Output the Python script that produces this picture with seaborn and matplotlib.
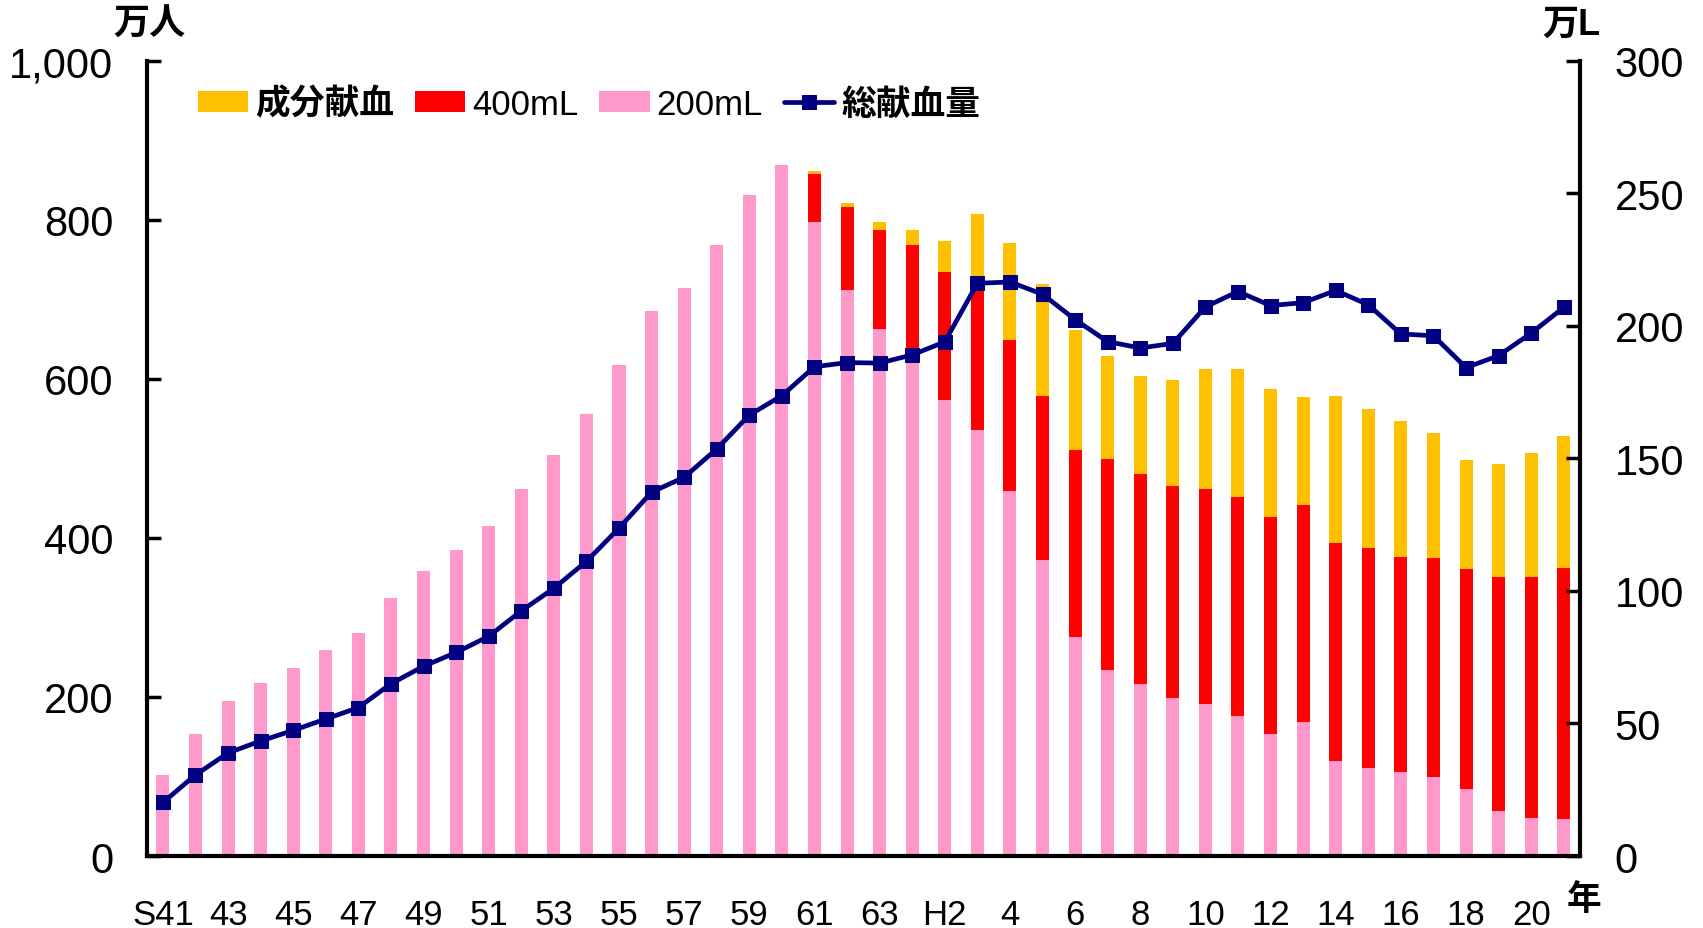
import numpy as np
import pandas as pd
import matplotlib
matplotlib.use("Agg")
import matplotlib.pyplot as plt
import seaborn as sns
from matplotlib.ticker import FuncFormatter

# S41 .. S63, H1 .. H21
years = [f"S{y}" for y in range(41, 64)] + [f"H{y}" for y in range(1, 22)]

ml200 = [102, 154, 195, 217, 237, 259, 281, 325, 359, 385, 415, 462, 505, 556, 618, 686, 715, 768, 831, 869,
         797, 712, 663, 624, 574, 536, 459, 372, 276, 234, 216, 199, 191, 176, 154, 169, 119, 111, 106, 99, 84, 57, 48, 46]
ml400 = [0] * 20 + [61, 104, 124, 145, 160, 192, 190, 206, 235, 265, 265, 266, 271, 276, 272, 273, 275, 277, 270,
                    276, 277, 294, 303, 316]
seibun = [0] * 20 + [3, 5, 11, 19, 40, 79, 122, 142, 150, 130, 123, 134, 151, 161, 161, 135, 184, 174, 171,
                     157, 137, 142, 156, 166]
total_L = [20.2, 30.6, 38.9, 43.4, 47.4, 51.7, 56.0, 65.0, 71.6, 76.8, 82.9, 92.5, 101.0, 111.2, 123.7, 137.3,
           142.9, 153.6, 166.4, 173.7, 184.6, 186.2, 186.0, 189.1, 194.0, 216.1, 216.6, 212.0, 202.4, 194.1,
           191.7, 193.4, 207.2, 213.0, 207.7, 208.8, 213.4, 208.0, 197.0, 196.3, 184.3, 188.8, 197.3, 207.0]

tick_labels = ["S41", "43", "45", "47", "49", "51", "53", "55", "57", "59", "61", "63",
               "H2", "4", "6", "8", "10", "12", "14", "16", "18", "20"]

df = pd.DataFrame({"year": years, "p": ml200, "r": ml400, "o": seibun, "L": total_L})
df["idx"] = np.arange(len(df))
df["pr"] = df["p"] + df["r"]
df["all"] = df["pr"] + df["o"]

sns.set_style("ticks")
plt.rcParams["font.family"] = ["Liberation Sans", "Noto Sans CJK JP", "DejaVu Sans"]
plt.rcParams["text.color"] = "black"
plt.rcParams["xtick.color"] = "black"
plt.rcParams["ytick.color"] = "black"
plt.rcParams["axes.edgecolor"] = "black"

c_o, c_r, c_p, c_line = "#FFC000", "#FF0000", "#FF99CC", "#000080"

fig = plt.figure(figsize=(17.03, 9.29), dpi=100)
ax = fig.add_axes([0.0861, 0.0775, 0.8417, 0.8558])

sns.barplot(data=df, x="idx", y="all", color=c_o, saturation=1, width=0.4, linewidth=0, ax=ax, label="成分献血")
sns.barplot(data=df, x="idx", y="pr", color=c_r, saturation=1, width=0.4, linewidth=0, ax=ax, label="400mL")
sns.barplot(data=df, x="idx", y="p", color=c_p, saturation=1, width=0.4, linewidth=0, ax=ax, label="200mL")
ax.set_xlim(-0.5, len(df) - 0.5)
ax.set_ylim(0, 1000)
ax.set_yticks(range(0, 1001, 200))
ax.yaxis.set_major_formatter(FuncFormatter(lambda v, p: f"{int(v):,}"))
ax.set_xticks(range(0, len(df), 2))
ax.set_xticklabels(tick_labels)
ax.set_xlabel("")
ax.set_ylabel("")
ax.tick_params(axis="y", direction="in", length=10, width=2.5, labelsize=30, pad=24)
ax.tick_params(axis="x", length=0, labelsize=25, pad=30)
for s in ["left", "bottom"]:
    ax.spines[s].set_linewidth(3)
ax.spines["top"].set_visible(False)
ax.spines["right"].set_visible(False)

ax2 = ax.twinx()
sns.lineplot(data=df, x="idx", y="L", color=c_line, lw=3.4, marker="s", markersize=10,
             markeredgecolor=c_line, ax=ax2, label="総献血量", legend=False)
ax2.set_ylim(0, 300)
ax2.set_yticks(range(0, 301, 50))
ax2.set_ylabel("")
ax2.set_xlim(-0.5, len(df) - 0.5)
ax2.tick_params(axis="y", direction="in", length=10, width=2.5, labelsize=30, pad=25)
ax2.spines["right"].set_linewidth(3)
ax2.spines["top"].set_visible(False)
ax2.spines["left"].set_visible(False)
ax2.spines["bottom"].set_visible(False)

h1, l1 = ax.get_legend_handles_labels()
h2, l2 = ax2.get_legend_handles_labels()
if ax.get_legend():
    ax.get_legend().remove()
leg = ax2.legend(h1 + h2, l1 + l2, ncol=4, frameon=False, loc="upper left",
                 bbox_to_anchor=(0.014, 1.006), fontsize=25, handlelength=1.45, handleheight=0.55,
                 handletextpad=0.2, columnspacing=0.6)
for t in leg.get_texts():
    if t.get_text() in ("成分献血", "総献血量"):
        t.set_fontweight("bold")

fig.text(0.088, 0.973, "万人", fontsize=26, fontweight="bold", ha="center", va="center")
fig.text(0.923, 0.973, "万L", fontsize=26, fontweight="bold", ha="center", va="center")
fig.text(0.930, 0.031, "年", fontsize=25, fontweight="bold", ha="center", va="center")

fig.savefig("out.png", dpi=100)
